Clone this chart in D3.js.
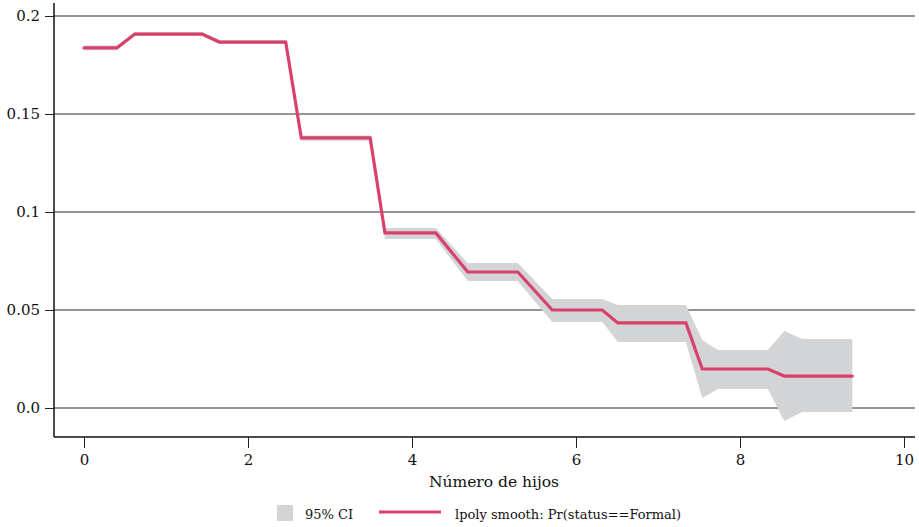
<!DOCTYPE html>
<html>
<head>
<meta charset="utf-8">
<script src="https://cdn.jsdelivr.net/npm/d3@7"></script>
<style>
  body { margin: 0; background: #fff; }
  text { font-family: 'DejaVu Serif', serif; fill: #111; }
</style>
</head>
<body>
<div class="chart"></div>
<script>
// Número de hijos (grid points of the smooth)
const xs = [0, 0.40, 0.62, 1.44, 1.65, 2.46, 2.65, 3.49, 3.67, 4.29, 4.68, 5.29,
  5.71, 6.32, 6.51, 7.34, 7.54, 7.73, 8.34, 8.54, 8.76, 9.37];
// lpoly smooth: Pr(status==Formal)
const fit = [0.1837, 0.1837, 0.1908, 0.1908, 0.1867, 0.1867, 0.1378, 0.1378, 0.0893, 0.0893,
  0.0694, 0.0694, 0.0500, 0.0500, 0.0434, 0.0434, 0.0199, 0.0199, 0.0199, 0.0163, 0.0163, 0.0163];
// 95% CI
const upper = [0.1849, 0.1849, 0.1918, 0.1918, 0.1877, 0.1877, 0.1390, 0.1390, 0.0918, 0.0918,
  0.0740, 0.0740, 0.0556, 0.0556, 0.0526, 0.0526, 0.0347, 0.0296, 0.0296, 0.0393, 0.0352, 0.0352];
const lower = [0.1825, 0.1825, 0.1898, 0.1898, 0.1857, 0.1857, 0.1364, 0.1364, 0.0862, 0.0862,
  0.0648, 0.0648, 0.0439, 0.0439, 0.0337, 0.0337, 0.0051, 0.0097, 0.0097, -0.0066, -0.0020, -0.0020];

const yTicks = [0, 0.05, 0.1, 0.15, 0.2];
const yTickLabels = ['0.0', '0.05', '0.1', '0.15', '0.2'];
const xTicks = [0, 2, 4, 6, 8, 10];

const data = xs.map((x, i) => ({ x: x, fit: fit[i], hi: upper[i], lo: lower[i] }));

const W = 919, H = 527;
const plot = { left: 54, right: 915, top: 3, bottom: 437 };

const svg = d3.select('.chart').append('svg').attr('width', W).attr('height', H);

const xScale = d3.scaleLinear().domain([0, 10]).range([84, 904]);
const yScale = d3.scaleLinear().domain([0, 0.2]).range([408, 16]);

// gridlines
svg.append('g')
  .selectAll('line')
  .data(yTicks)
  .join('line')
  .attr('x1', plot.left).attr('x2', plot.right)
  .attr('y1', (d) => yScale(d)).attr('y2', (d) => yScale(d))
  .attr('stroke', '#2a2a2a')
  .attr('stroke-width', 1.2);

// CI band
const area = d3.area()
  .x((d) => xScale(d.x))
  .y0((d) => yScale(d.lo))
  .y1((d) => yScale(d.hi));
svg.append('path').datum(data).attr('d', area).attr('fill', '#d3d4d6');

// smooth line
const line = d3.line().x((d) => xScale(d.x)).y((d) => yScale(d.fit));
svg.append('path').datum(data).attr('d', line)
  .attr('fill', 'none')
  .attr('stroke', '#d9406c')
  .attr('stroke-width', 3.2)
  .attr('stroke-linejoin', 'miter')
  .attr('stroke-linecap', 'round');

// y axis
const yAxis = d3.axisLeft(yScale).tickValues(yTicks)
  .tickFormat((d, i) => yTickLabels[i]).tickSize(9).tickPadding(5);
const gy = svg.append('g').attr('transform', `translate(${plot.left},0)`).call(yAxis);
gy.select('.domain').attr('d', `M0,${plot.top}V${plot.bottom}`).attr('stroke', '#111').attr('stroke-width', 1.5);
gy.selectAll('.tick line').attr('stroke', '#222');
gy.selectAll('.tick text').attr('font-size', 15).attr('font-family', 'DejaVu Serif').attr('fill', '#111');

// x axis
const xAxis = d3.axisBottom(xScale).tickValues(xTicks).tickSize(11).tickPadding(6);
const gx = svg.append('g').attr('transform', `translate(0,${plot.bottom})`).call(xAxis);
gx.select('.domain').attr('d', `M${plot.left},0H${plot.right}`).attr('stroke', '#111').attr('stroke-width', 1.5);
gx.selectAll('.tick line').attr('stroke', '#222');
gx.selectAll('.tick text').attr('font-size', 15).attr('font-family', 'DejaVu Serif').attr('fill', '#111');

// x-axis title
svg.append('text')
  .attr('x', 494).attr('y', 487)
  .attr('text-anchor', 'middle')
  .attr('font-size', 15.5)
  .text('Número de hijos');

// legend
svg.append('rect').attr('x', 277).attr('y', 505).attr('width', 16).attr('height', 16).attr('fill', '#d3d4d6');
svg.append('text').attr('x', 305).attr('y', 519).attr('font-size', 13).text('95% CI');
svg.append('line').attr('x1', 379).attr('x2', 441).attr('y1', 512).attr('y2', 512)
  .attr('stroke', '#d9406c').attr('stroke-width', 3);
svg.append('text').attr('x', 455).attr('y', 519).attr('font-size', 13).text('lpoly smooth: Pr(status==Formal)');
</script>
</body>
</html>
